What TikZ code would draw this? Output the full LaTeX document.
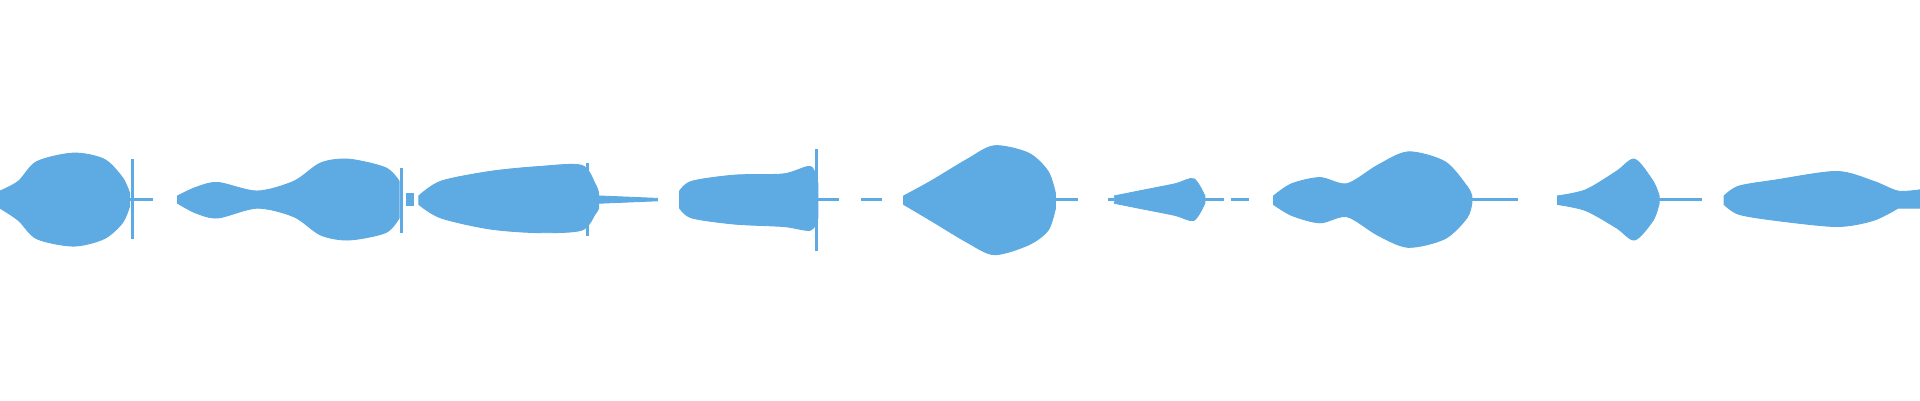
\documentclass[tikz,border=0pt]{standalone}
\definecolor{wave}{RGB}{93,171,226}
\begin{document}
\begin{tikzpicture}[x=0.01cm,y=-0.01cm,wv/.style={fill=wave,draw=wave,line width=0.2pt},tl/.style={draw=wave,line width=0.6pt}]
\useasboundingbox (0,0) rectangle (1568,327);
% 1
\path[wv] plot[smooth] coordinates {(0,156)(15,148)(30,132)(60,125)(85,130)(100,145)(106,158)}
 -- plot[smooth] coordinates {(106,168)(100,182)(85,195)(60,201)(30,195)(15,180)(0,170)} -- cycle;
\draw[tl] (108,130) -- (108,195); \draw[tl] (106,163) -- (125,163);
% 2
\path[wv] plot[smooth] coordinates {(145,160)(160,153)(178,149)(210,156)(240,148)(262,133)(285,130)(315,137)(326,148)}
 -- plot[smooth] coordinates {(326,178)(315,190)(285,196)(262,192)(240,177)(210,170)(178,178)(160,174)(145,166)} -- cycle;
\draw[tl] (328,137) -- (328,190);
\path[wv] (332,158) rectangle (338,168);
% 3
\path[wv] plot[smooth] coordinates {(342,160)(360,148)(400,140)(440,136)(475,135)(486,150)(489,158)}
 -- plot[smooth] coordinates {(489,170)(486,175)(475,188)(440,190)(400,187)(360,178)(342,167)} -- cycle;
\draw[tl] (480,133) -- (480,193);
\path[wv] (489,160) -- (537,162) -- (537,164) -- (489,166) -- cycle;
% 4
\path[wv] plot[smooth] coordinates {(555,156)(565,148)(600,143)(640,142)(662,136)(668,150)}
 -- plot[smooth] coordinates {(668,178)(662,188)(640,185)(600,183)(565,178)(555,170)} -- cycle;
\draw[tl] (667,122) -- (667,205); \draw[tl] (668,163) -- (685,163);
\draw[tl] (703,163) -- (720,163);
% 5
\path[wv] plot[smooth] coordinates {(738,160)(760,148)(790,130)(812,119)(840,125)(856,140)(862,158)}
 -- plot[smooth] coordinates {(862,170)(856,188)(840,200)(812,208)(790,198)(760,180)(738,167)} -- cycle;
\draw[tl] (862,163) -- (880,163);
% 6
\draw[tl] (905,163) -- (910,163);
\path[wv] plot[smooth] coordinates {(910,160)(935,155)(960,150)(975,146)(984,160)}
 -- plot[smooth] coordinates {(984,166)(975,180)(960,176)(935,171)(910,166)} -- cycle;
\draw[tl] (984,163) -- (1000,163); \draw[tl] (1005,163) -- (1020,163);
% 7
\path[wv] plot[smooth] coordinates {(1040,160)(1055,150)(1078,145)(1100,150)(1125,135)(1150,124)(1180,132)(1198,152)(1202,160)}
 -- plot[smooth] coordinates {(1202,166)(1198,178)(1180,195)(1150,202)(1125,192)(1100,177)(1078,182)(1055,176)(1040,167)} -- cycle;
\draw[tl] (1202,163) -- (1240,163);
% 8
\path[wv] plot[smooth] coordinates {(1272,160)(1295,155)(1320,140)(1335,130)(1350,148)(1355,160)}
 -- plot[smooth] coordinates {(1355,166)(1350,180)(1335,196)(1320,186)(1295,172)(1272,167)} -- cycle;
\draw[tl] (1355,163) -- (1390,163);
% 9
\path[wv] plot[smooth] coordinates {(1408,160)(1420,152)(1450,147)(1500,140)(1530,148)(1550,156)(1568,155)}
 -- (1568,170) -- plot[smooth] coordinates {(1550,170)(1530,180)(1500,185)(1450,180)(1420,175)(1408,167)} -- cycle;
\end{tikzpicture}
\end{document}
